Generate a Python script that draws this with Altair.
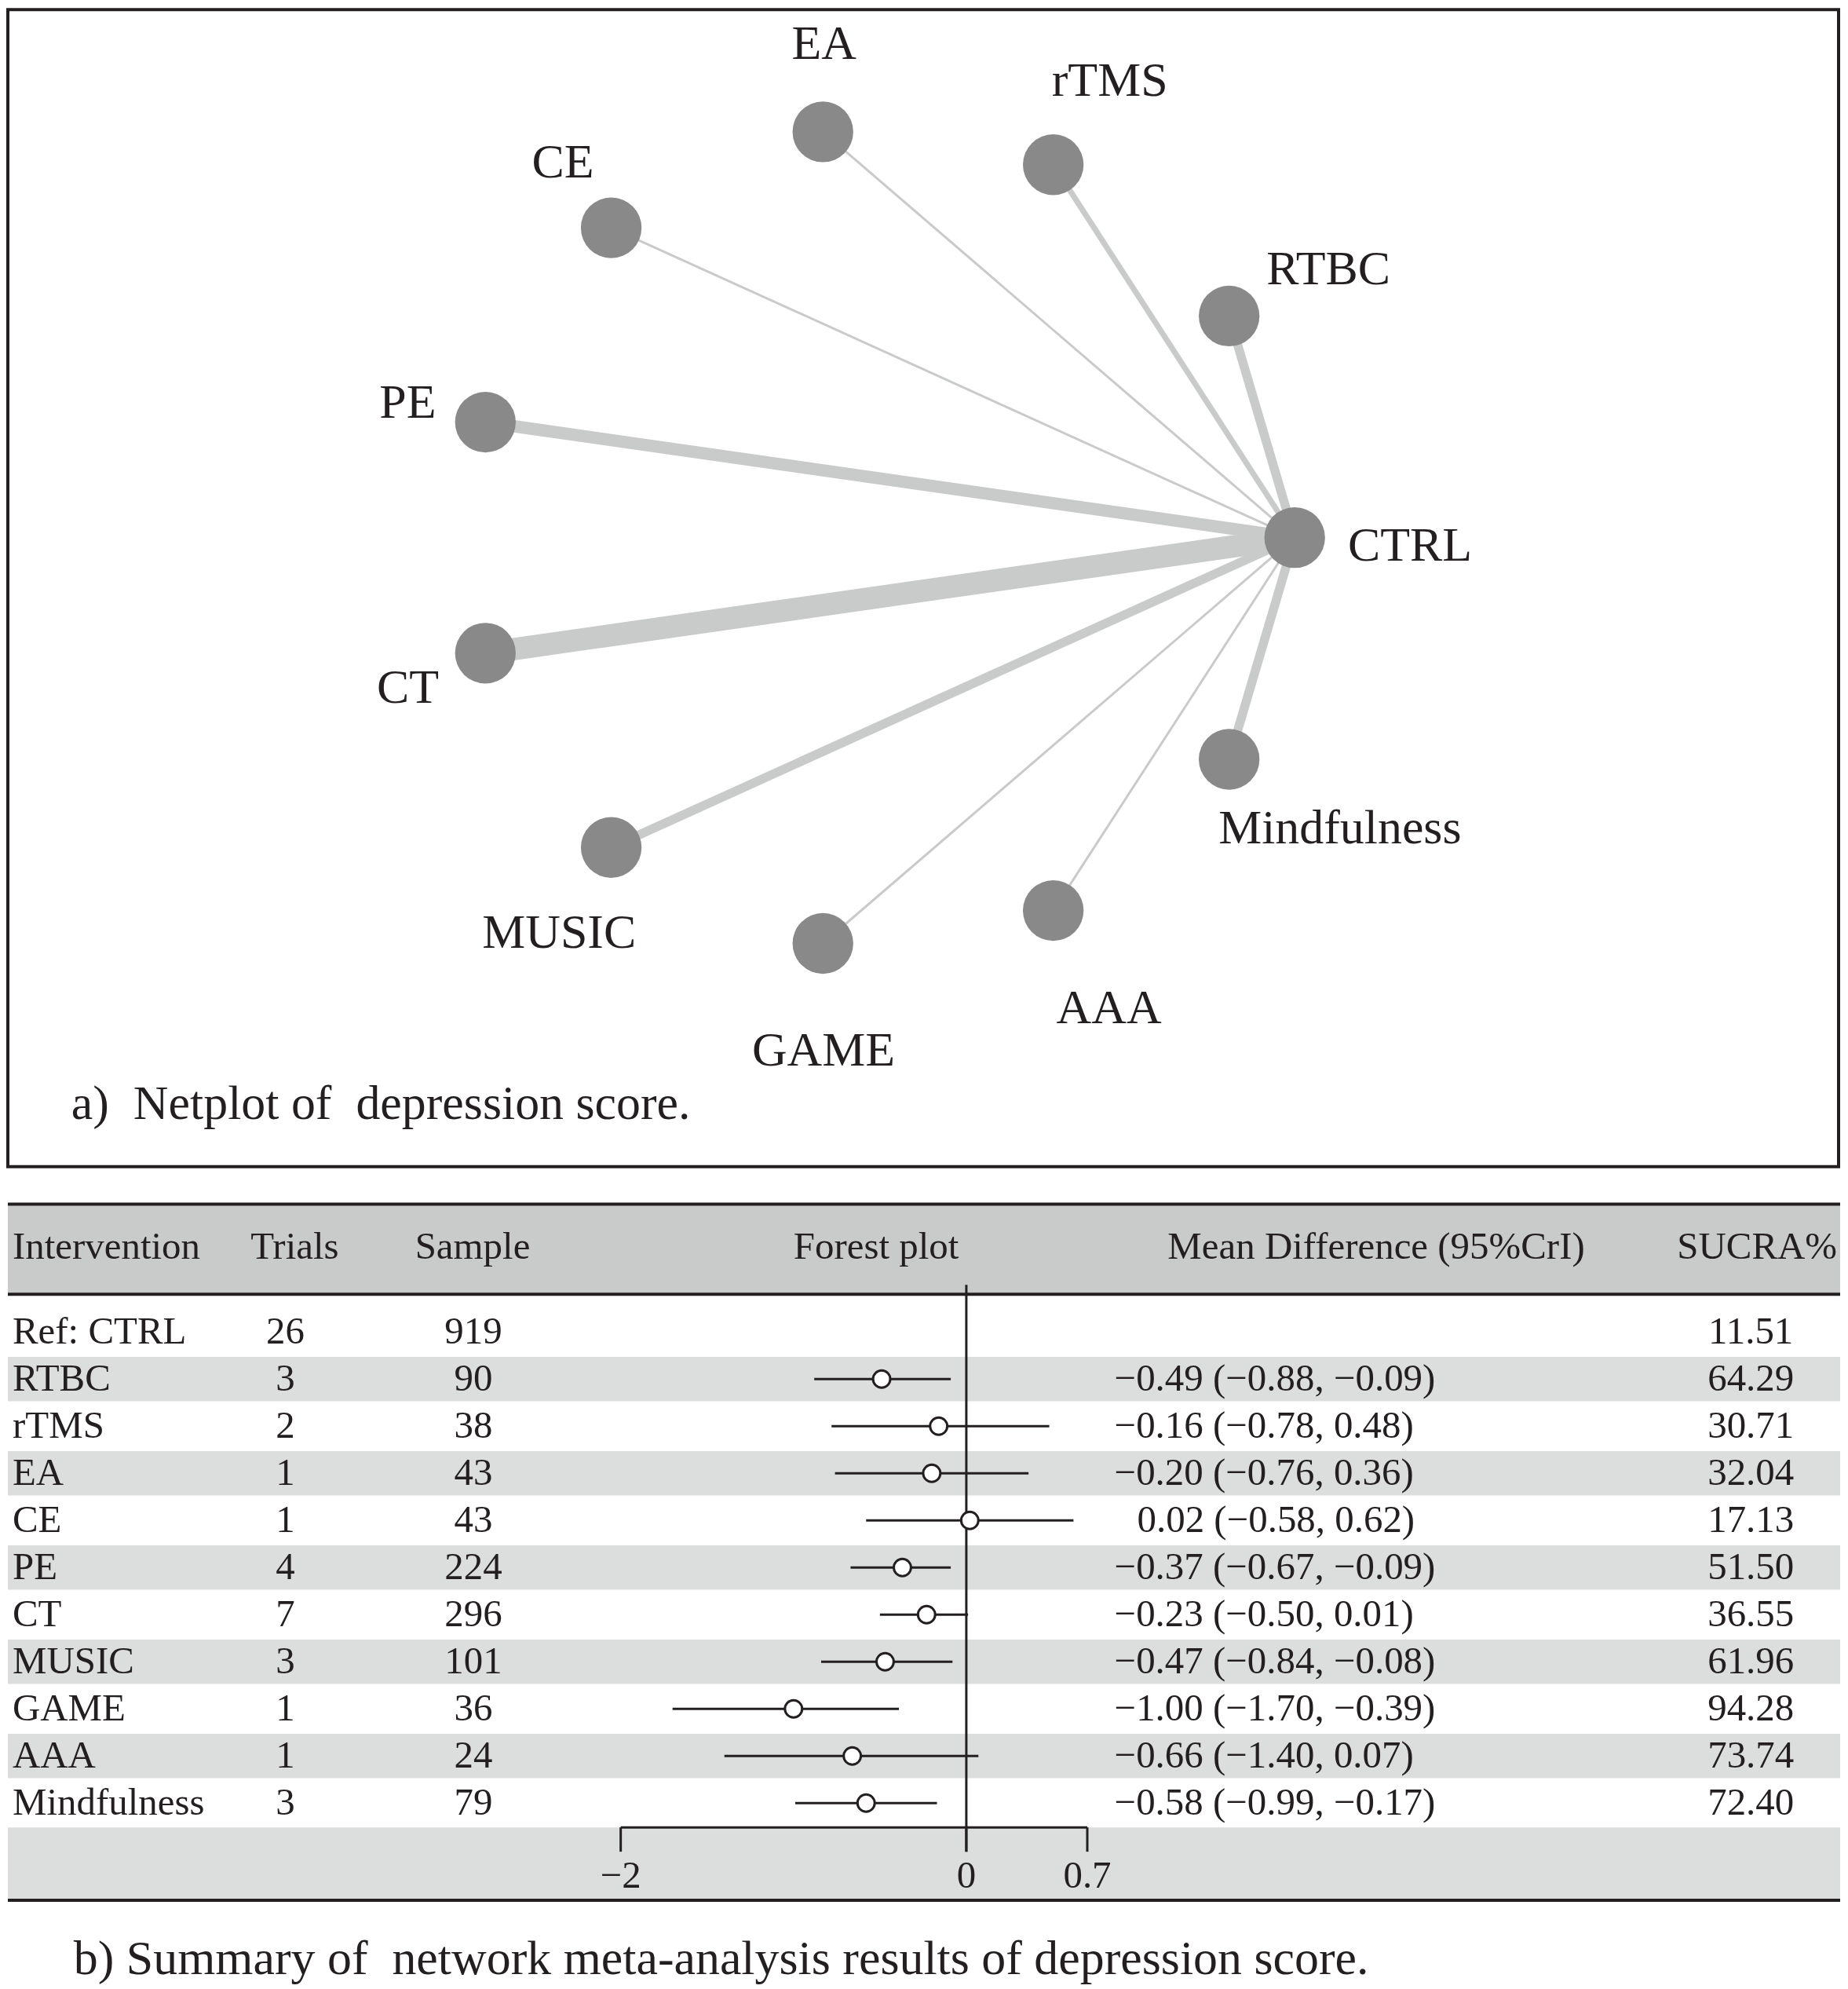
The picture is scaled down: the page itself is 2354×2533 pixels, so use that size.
import math
import altair as alt
import pandas as pd

# ---------------- data ----------------
interventions = ["Ref: CTRL", "RTBC", "rTMS", "EA", "CE", "PE", "CT", "MUSIC", "GAME", "AAA", "Mindfulness"]
node_names = ["CTRL", "RTBC", "rTMS", "EA", "CE", "PE", "CT", "MUSIC", "GAME", "AAA", "Mindfulness"]
trials = [26, 3, 2, 1, 1, 4, 7, 3, 1, 1, 3]
samples = [919, 90, 38, 43, 43, 224, 296, 101, 36, 24, 79]
md = [None, -0.49, -0.16, -0.20, 0.02, -0.37, -0.23, -0.47, -1.00, -0.66, -0.58]
md_lo = [None, -0.88, -0.78, -0.76, -0.58, -0.67, -0.50, -0.84, -1.70, -1.40, -0.99]
md_hi = [None, -0.09, 0.48, 0.36, 0.62, -0.09, 0.01, -0.08, -0.39, 0.07, -0.17]
sucra = ["11.51", "64.29", "30.71", "32.04", "17.13", "51.50", "36.55", "61.96", "94.28", "73.74", "72.40"]
tick_values = [-2, 0, 0.7]
tick_labels = ["\u22122", "0", "0.7"]
headers = ["Intervention", "Trials", "Sample", "Forest plot", "Mean Difference (95%CrI)", "SUCRA%"]
caption_a = "a)\u00a0 Netplot of\u00a0 depression score."
caption_b = "b) Summary of\u00a0 network meta-analysis results of depression score."

FONT = "Liberation Serif"
INK = "#231f20"

def fmt(v):
    s = f"{abs(v):.2f}"
    return ("\u2212" + s) if v < 0 else s

# ---------------- panel A: netplot ----------------
W_A, H_A = 2336, 1476
RX, RY = 527.0, 523.0
CX, CY = 1115.0, 673.7
xA = alt.Scale(domain=[-CX / RX, (W_A - CX) / RX], nice=False, zero=False)
yA = alt.Scale(domain=[-(H_A - CY) / RY, CY / RY], nice=False, zero=False)

n = len(node_names)
nodes = []
for k, name in enumerate(node_names):
    th = 2 * math.pi * k / n
    c, s = math.cos(th), math.sin(th)
    off = 118 + 2.5 * len(name)  # label distance from node (px)
    nodes.append(dict(name=name, x=c, y=s, lx=c + off * c / RX, ly=s + off * s / RY, trials=trials[k]))
nodes_df = pd.DataFrame(nodes)
edges_df = pd.DataFrame([
    dict(x0=nodes[0]["x"], y0=nodes[0]["y"], x1=nd["x"], y1=nd["y"], w=nd["trials"])
    for nd in nodes[1:]
])

edges = alt.Chart(edges_df).mark_rule(color="#c9caca", strokeCap="butt").encode(
    x=alt.X("x0:Q", scale=xA, axis=None),
    y=alt.Y("y0:Q", scale=yA, axis=None),
    x2="x1:Q", y2="y1:Q",
    strokeWidth=alt.StrokeWidth("w:Q", scale=alt.Scale(domain=[1, 7], range=[3, 28.5]), legend=None),
)
node_marks = alt.Chart(nodes_df).mark_point(
    shape="circle", filled=True, color="#898989", opacity=1, size=6000, strokeWidth=0
).encode(
    x=alt.X("x:Q", scale=xA, axis=None),
    y=alt.Y("y:Q", scale=yA, axis=None),
)
node_labels = alt.Chart(nodes_df).mark_text(
    font=FONT, fontSize=62, color=INK, align="center", baseline="middle", dx=19, dy=10
).encode(
    x=alt.X("lx:Q", scale=xA, axis=None),
    y=alt.Y("ly:Q", scale=yA, axis=None),
    text="name:N",
)
cap_a = alt.Chart(pd.DataFrame({"t": [caption_a]})).mark_text(
    font=FONT, fontSize=62, color=INK, align="left", baseline="middle"
).encode(x=alt.value(81), y=alt.value(1396), text="t:N")

panel_a = alt.layer(edges, node_marks, node_labels, cap_a).properties(
    width=W_A, height=H_A,
    view=alt.ViewBackground(stroke=INK, strokeWidth=4),
)

# ---------------- panel B: table + forest ----------------
W_B, H_B = 2338, 997
ROW0, PITCH = 165.0, 60.1
ZERO_PX, UNIT = 1223.0, 220.5
xB = alt.Scale(domain=[-ZERO_PX / UNIT, (W_B - ZERO_PX) / UNIT], nice=False, zero=False)
yB = alt.Scale(domain=[-ROW0 / PITCH, (H_B - ROW0) / PITCH], nice=False, zero=False, reverse=True)

rows = []
for i, name in enumerate(interventions):
    txt = "" if md[i] is None else f"{fmt(md[i])} ({fmt(md_lo[i])}, {fmt(md_hi[i])})"
    rows.append(dict(i=i, name=name, trials=str(trials[i]), sample=str(samples[i]),
                     md=md[i], lo=md_lo[i], hi=md_hi[i], mdtxt=txt, sucra=sucra[i]))
rows_df = pd.DataFrame(rows)
forest_df = rows_df[rows_df["md"].notna()].copy()
bands_df = pd.DataFrame([dict(a=i - 0.47, b=i + 0.47) for i in range(len(interventions)) if i % 2 == 1])

def rule_px(y, color=INK, w=4):
    return alt.Chart(pd.DataFrame({"v": [0]})).mark_rule(color=color, strokeWidth=w).encode(
        x=alt.value(0), x2=alt.value(W_B), y=alt.value(y))

header_band = alt.Chart(pd.DataFrame({"v": [0]})).mark_rect(color="#c9caca").encode(
    x=alt.value(0), x2=alt.value(W_B), y=alt.value(2), y2=alt.value(117))
axis_band = alt.Chart(pd.DataFrame({"v": [0]})).mark_rect(color="#dcdddd").encode(
    x=alt.value(0), x2=alt.value(W_B), y=alt.value(797), y2=alt.value(890))
row_bands = alt.Chart(bands_df).mark_rect(color="#dcdddd").encode(
    x=alt.value(0), x2=alt.value(W_B),
    y=alt.Y("a:Q", scale=yB, axis=None), y2="b:Q")

header_specs = [(0, 6, "left"), (1, 366, "center"), (2, 593, "center"),
                (3, 1108, "center"), (4, 1746, "center"), (5, 2232, "center")]
header_layers = [
    alt.Chart(pd.DataFrame({"t": [headers[k]]})).mark_text(
        font=FONT, fontSize=49, color=INK, align=al, baseline="middle"
    ).encode(x=alt.value(px), y=alt.value(57), text="t:N")
    for k, px, al in header_specs
]

def col_text(field, px, align, data=rows_df):
    return alt.Chart(data).mark_text(
        font=FONT, fontSize=49, color=INK, align=align, baseline="middle"
    ).encode(x=alt.value(px), y=alt.Y("i:Q", scale=yB, axis=None), text=f"{field}:N")

name_col = col_text("name", 6, "left")
trial_col = col_text("trials", 354, "center")
sample_col = col_text("sample", 594, "center")
md_neg = col_text("mdtxt", 1412, "left", forest_df[forest_df["md"] < 0])
md_pos = col_text("mdtxt", 1441, "left", forest_df[forest_df["md"] >= 0])
sucra_col = col_text("sucra", 2224, "center")

zero_line = alt.Chart(pd.DataFrame({"v": [0]})).mark_rule(color=INK, strokeWidth=3).encode(
    x=alt.X("v:Q", scale=xB, axis=None), y=alt.value(105), y2=alt.value(828))
ci = alt.Chart(forest_df).mark_rule(color=INK, strokeWidth=3).encode(
    x=alt.X("lo:Q", scale=xB, axis=None), x2="hi:Q",
    y=alt.Y("i:Q", scale=yB, axis=None))
pts = alt.Chart(forest_df).mark_point(
    shape="circle", filled=True, fill="white", stroke=INK, strokeWidth=3, size=480, opacity=1
).encode(x=alt.X("md:Q", scale=xB, axis=None), y=alt.Y("i:Q", scale=yB, axis=None))

ticks_df = pd.DataFrame({"v": tick_values, "lab": tick_labels})
axis_line = alt.Chart(pd.DataFrame({"a": [min(tick_values)], "b": [max(tick_values)]})).mark_rule(
    color=INK, strokeWidth=3).encode(
    x=alt.X("a:Q", scale=xB, axis=None), x2="b:Q", y=alt.value(797))
tick_marks = alt.Chart(ticks_df).mark_rule(color=INK, strokeWidth=3).encode(
    x=alt.X("v:Q", scale=xB, axis=None), y=alt.value(797), y2=alt.value(828))
tick_text = alt.Chart(ticks_df).mark_text(
    font=FONT, fontSize=49, color=INK, align="center", baseline="middle"
).encode(x=alt.X("v:Q", scale=xB, axis=None), y=alt.value(859), text="lab:N")

cap_b = alt.Chart(pd.DataFrame({"t": [caption_b]})).mark_text(
    font=FONT, fontSize=62, color=INK, align="left", baseline="middle"
).encode(x=alt.value(84), y=alt.value(965), text="t:N")

panel_b = alt.layer(
    header_band, row_bands, axis_band,
    rule_px(2), rule_px(117), rule_px(890),
    *header_layers,
    name_col, trial_col, sample_col, md_neg, md_pos, sucra_col,
    zero_line, ci, pts, axis_line, tick_marks, tick_text, cap_b,
).properties(width=W_B, height=H_B, view=alt.ViewBackground(strokeWidth=0))

chart = alt.vconcat(panel_a, panel_b, spacing=44).properties(padding=0).configure_view(
    strokeWidth=0).resolve_scale(x="independent", y="independent")

chart.save("out.html", embed_options={"renderer": "svg", "actions": False})
